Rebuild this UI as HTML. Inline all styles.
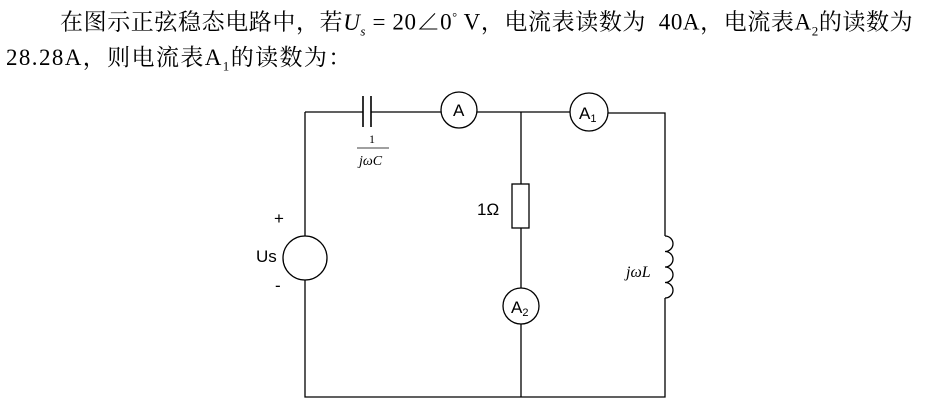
<!DOCTYPE html>
<html><head><meta charset="utf-8"><style>
body{margin:0;width:937px;height:413px;background:#fff;overflow:hidden;position:relative;font-family:"Liberation Serif","Noto Serif CJK SC",serif;}
.t{position:absolute;font-size:23px;letter-spacing:1px;color:#000;white-space:nowrap;line-height:26px;}
</style></head><body>
<div class="t" style="left:60px;top:4px;letter-spacing:0.6px;">在图示正弦稳态电路中，若<i>U<sub style="font-size:13px">s</sub></i> = 20∠0<sup style="font-size:12px">°</sup> V，电流表读数为&nbsp; 40A，电流表A<sub style="font-size:13px">2</sub>的读数为</div>
<div class="t" style="left:6px;top:45px;letter-spacing:1.4px;">28.28A，则电流表A<sub style="font-size:13px">1</sub>的读数为：</div>
<svg width="937" height="413" style="position:absolute;left:0;top:0" font-family="Liberation Sans, sans-serif">
<g stroke="#000" stroke-width="1.3" fill="none">
<path d="M305 112 H363 M371 112 H441 M477 112 H570 M608 113 H665 V236 M665 298 V397 H305 V280 M305 236 V112"/>
<path d="M363 96 V127 M371 96 V127" stroke-width="1.6"/>
<circle cx="459" cy="110" r="18"/>
<circle cx="589" cy="112" r="19"/>
<circle cx="305" cy="258" r="22"/>
<path d="M521 112 V184 M521 228 V288 M521 324 V397"/>
<rect x="512" y="184" width="17" height="44"/>
<circle cx="521" cy="306" r="18"/>
<path d="M665 236 a8 7.75 0 0 1 0 15.5 a8 7.75 0 0 1 0 15.5 a8 7.75 0 0 1 0 15.5 a8 7.75 0 0 1 0 15.5"/>
<path d="M357 148 H389" stroke-width="0.8"/>
</g>
<g font-size="17" fill="#000">
<text x="453" y="116">A</text>
<text x="579" y="119">A<tspan font-size="11" dy="3">1</tspan></text>
<text x="511" y="313">A<tspan font-size="11" dy="3">2</tspan></text>
<text x="477" y="215">1Ω</text>
<text x="256" y="262">Us</text>
<text x="274" y="224">+</text>
<text x="275" y="291">-</text>
</g>
<g font-family="Liberation Serif, serif" font-style="italic" fill="#000">
<text x="369" y="143" font-size="12" font-style="normal">1</text>
<text x="359" y="165" font-size="14">jωC</text>
<text x="626" y="277" font-size="16">jωL</text>
</g>
</svg>
</body></html>
